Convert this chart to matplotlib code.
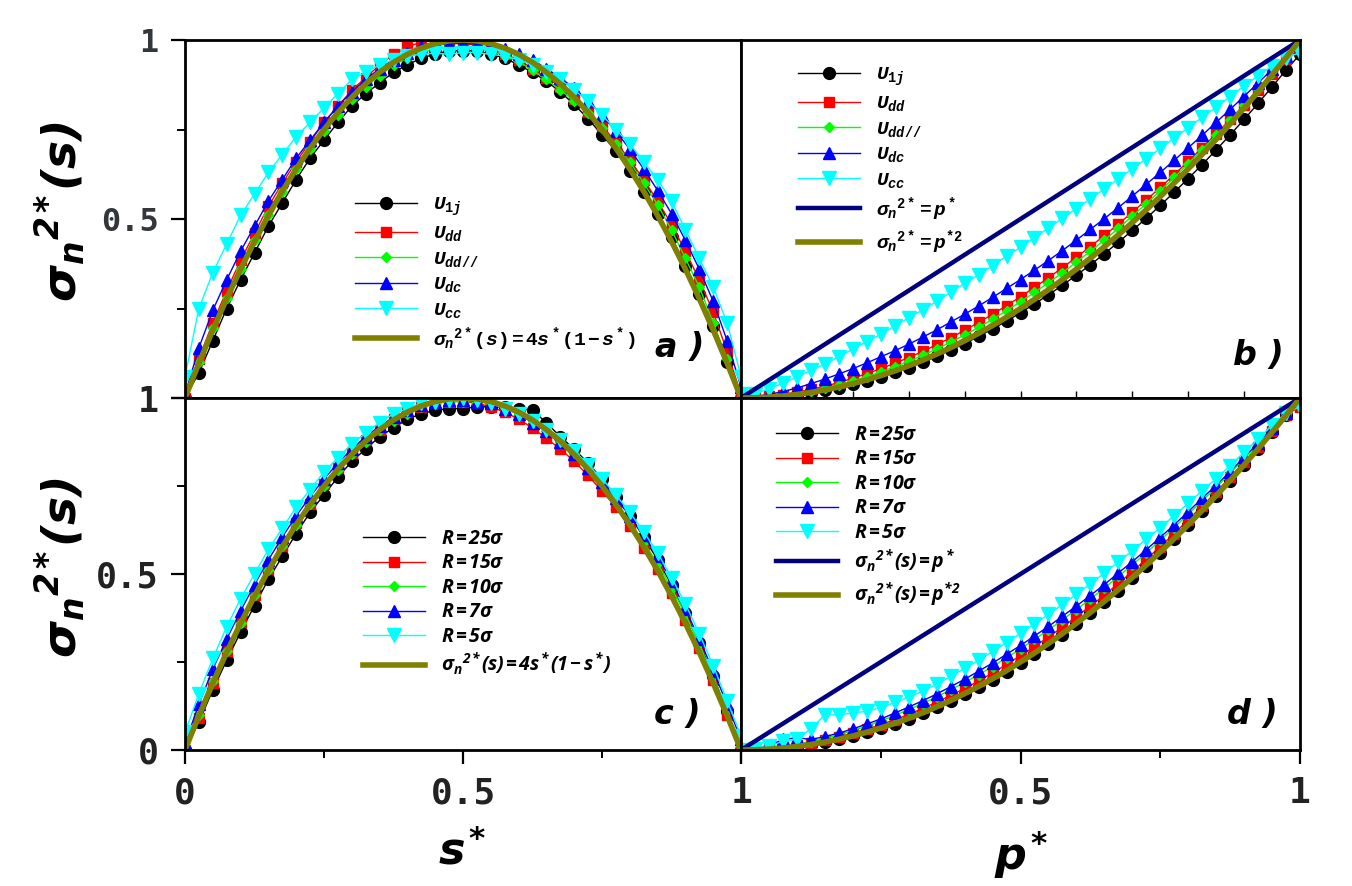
import matplotlib
matplotlib.use('Agg')
import matplotlib.pyplot as plt

plt.rcParams['mathtext.fontset'] = 'custom'
plt.rcParams['mathtext.it'] = 'Liberation Mono:italic:bold'
plt.rcParams['mathtext.rm'] = 'Liberation Mono:bold'
plt.rcParams['mathtext.bf'] = 'Open Sans:italic:bold'
plt.rcParams['mathtext.sf'] = 'DejaVu Sans:italic:bold'

# ---------------- data ----------------
x_grid = [0.000, 0.025, 0.050, 0.075, 0.100, 0.125, 0.150, 0.175, 0.200, 0.225,
          0.250, 0.275, 0.300, 0.325, 0.350, 0.375, 0.400, 0.425, 0.450, 0.475,
          0.500, 0.525, 0.550, 0.575, 0.600, 0.625, 0.650, 0.675, 0.700, 0.725,
          0.750, 0.775, 0.800, 0.825, 0.850, 0.875, 0.900, 0.925, 0.950, 0.975, 1.000]

# theory curves
theory_s = [0.0, 0.0975, 0.19, 0.2775, 0.36, 0.4375, 0.51, 0.5775, 0.64, 0.6975,
            0.75, 0.7975, 0.84, 0.8775, 0.91, 0.9375, 0.96, 0.9775, 0.99, 0.9975,
            1.0, 0.9975, 0.99, 0.9775, 0.96, 0.9375, 0.91, 0.8775, 0.84, 0.7975,
            0.75, 0.6975, 0.64, 0.5775, 0.51, 0.4375, 0.36, 0.2775, 0.19, 0.0975, 0.0]
theory_p2 = [0.0, 0.0006, 0.0025, 0.0056, 0.01, 0.0156, 0.0225, 0.0306, 0.04, 0.0506,
             0.0625, 0.0756, 0.09, 0.1056, 0.1225, 0.1406, 0.16, 0.1806, 0.2025, 0.2256,
             0.25, 0.2756, 0.3025, 0.3306, 0.36, 0.3906, 0.4225, 0.4556, 0.49, 0.5256,
             0.5625, 0.6006, 0.64, 0.6806, 0.7225, 0.7656, 0.81, 0.8556, 0.9025, 0.9506, 1.0]
line_x = [0.0, 1.0]
line_y = [0.0, 1.0]

# panel a
a_black = [0.0, 0.07, 0.16, 0.25, 0.33, 0.405, 0.48, 0.545, 0.61, 0.67, 0.72, 0.77, 0.815, 0.85,
           0.88, 0.91, 0.93, 0.95, 0.96, 0.97, 0.97, 0.97, 0.96, 0.95, 0.93, 0.91, 0.885, 0.855,
           0.82, 0.78, 0.735, 0.69, 0.635, 0.575, 0.515, 0.45, 0.37, 0.29, 0.20, 0.10, 0.0]
a_red = [0.0, 0.11, 0.21, 0.30, 0.385, 0.46, 0.535, 0.60, 0.66, 0.715, 0.77, 0.815, 0.86, 0.895,
         0.93, 0.96, 0.98, 0.995, 1.0, 0.995, 0.99, 0.985, 0.975, 0.96, 0.945, 0.92, 0.895, 0.87,
         0.835, 0.80, 0.76, 0.715, 0.665, 0.61, 0.55, 0.485, 0.41, 0.33, 0.24, 0.13, 0.01]
a_green = [0.0, 0.10, 0.195, 0.28, 0.36, 0.44, 0.51, 0.575, 0.64, 0.695, 0.745, 0.79, 0.835, 0.87,
           0.90, 0.93, 0.95, 0.965, 0.975, 0.98, 0.98, 0.975, 0.97, 0.955, 0.94, 0.915, 0.89, 0.86,
           0.83, 0.795, 0.755, 0.71, 0.66, 0.60, 0.54, 0.47, 0.39, 0.31, 0.21, 0.11, 0.0]
a_blue = [0.01, 0.14, 0.245, 0.33, 0.41, 0.48, 0.55, 0.61, 0.67, 0.72, 0.77, 0.815, 0.855, 0.89,
          0.92, 0.945, 0.965, 0.98, 0.985, 0.99, 0.99, 0.99, 0.985, 0.975, 0.96, 0.945, 0.92, 0.895,
          0.865, 0.83, 0.79, 0.745, 0.695, 0.64, 0.58, 0.515, 0.44, 0.36, 0.27, 0.16, 0.03]
a_cyan = [0.06, 0.25, 0.35, 0.43, 0.51, 0.57, 0.63, 0.68, 0.73, 0.77, 0.81, 0.85, 0.89, 0.91,
          0.93, 0.945, 0.955, 0.96, 0.963, 0.96, 0.965, 0.965, 0.96, 0.955, 0.945, 0.93, 0.91, 0.89,
          0.86, 0.83, 0.79, 0.75, 0.71, 0.66, 0.61, 0.55, 0.47, 0.39, 0.31, 0.21, 0.06]

# panel b
b_black = [0.0, 0.0006, 0.0024, 0.0053, 0.0095, 0.0148, 0.0214, 0.029, 0.038, 0.048, 0.059, 0.072,
           0.085, 0.100, 0.116, 0.134, 0.152, 0.172, 0.193, 0.215, 0.238, 0.263, 0.288, 0.315, 0.343,
           0.372, 0.403, 0.435, 0.468, 0.502, 0.538, 0.575, 0.613, 0.652, 0.693, 0.735, 0.778, 0.823,
           0.869, 0.916, 0.96]
b_red = [0.0, 0.002, 0.005, 0.009, 0.016, 0.024, 0.033, 0.043, 0.055, 0.068, 0.082, 0.097, 0.113,
         0.130, 0.149, 0.168, 0.189, 0.211, 0.234, 0.258, 0.283, 0.309, 0.336, 0.364, 0.393, 0.423,
         0.454, 0.486, 0.519, 0.553, 0.588, 0.624, 0.661, 0.699, 0.738, 0.778, 0.819, 0.861, 0.904,
         0.948, 0.975]
b_green = [0.0, 0.001, 0.0035, 0.0075, 0.013, 0.020, 0.028, 0.037, 0.048, 0.059, 0.073, 0.087, 0.102,
           0.119, 0.137, 0.156, 0.176, 0.197, 0.220, 0.244, 0.269, 0.295, 0.322, 0.350, 0.380, 0.410,
           0.441, 0.474, 0.508, 0.543, 0.579, 0.616, 0.655, 0.694, 0.734, 0.776, 0.819, 0.862, 0.907,
           0.953, 0.98]
b_blue = [0.0, 0.004, 0.010, 0.018, 0.028, 0.040, 0.053, 0.067, 0.082, 0.098, 0.115, 0.132, 0.150,
          0.170, 0.190, 0.212, 0.234, 0.257, 0.281, 0.306, 0.331, 0.357, 0.384, 0.412, 0.441, 0.471,
          0.501, 0.532, 0.564, 0.597, 0.630, 0.664, 0.699, 0.734, 0.770, 0.806, 0.843, 0.880, 0.918,
          0.955, 0.985]
b_cyan = [0.01, 0.012, 0.025, 0.042, 0.058, 0.077, 0.095, 0.115, 0.137, 0.157, 0.178, 0.201, 0.224,
          0.246, 0.270, 0.295, 0.320, 0.344, 0.370, 0.396, 0.421, 0.448, 0.475, 0.502, 0.529, 0.556,
          0.584, 0.612, 0.640, 0.668, 0.697, 0.726, 0.755, 0.784, 0.812, 0.842, 0.872, 0.900, 0.927,
          0.950, 0.965]

# panel c
c_black = [0.0, 0.08, 0.17, 0.255, 0.335, 0.41, 0.485, 0.55, 0.615, 0.675, 0.725, 0.775, 0.82, 0.855,
           0.89, 0.915, 0.94, 0.955, 0.965, 0.97, 0.97, 0.975, 0.975, 0.975, 0.97, 0.965, 0.93, 0.89,
           0.855, 0.815, 0.77, 0.72, 0.665, 0.605, 0.54, 0.47, 0.39, 0.305, 0.21, 0.11, 0.0]
c_red = [0.0, 0.09, 0.19, 0.28, 0.365, 0.44, 0.515, 0.58, 0.645, 0.70, 0.755, 0.80, 0.845, 0.88,
         0.91, 0.94, 0.96, 0.975, 0.985, 0.99, 0.99, 0.985, 0.975, 0.96, 0.94, 0.915, 0.885, 0.855,
         0.82, 0.78, 0.735, 0.69, 0.635, 0.575, 0.515, 0.445, 0.37, 0.29, 0.20, 0.10, 0.0]
c_green = [0.01, 0.10, 0.195, 0.28, 0.36, 0.44, 0.51, 0.58, 0.64, 0.70, 0.75, 0.795, 0.84, 0.875,
           0.91, 0.935, 0.955, 0.975, 0.985, 0.99, 0.99, 0.99, 0.985, 0.975, 0.955, 0.935, 0.905, 0.875,
           0.84, 0.80, 0.755, 0.705, 0.65, 0.59, 0.53, 0.46, 0.385, 0.30, 0.21, 0.11, 0.01]
c_blue = [0.02, 0.13, 0.23, 0.315, 0.395, 0.47, 0.54, 0.605, 0.665, 0.72, 0.77, 0.815, 0.855, 0.89,
          0.92, 0.945, 0.965, 0.98, 0.99, 0.995, 0.995, 0.99, 0.985, 0.97, 0.955, 0.93, 0.905, 0.875,
          0.84, 0.80, 0.76, 0.715, 0.665, 0.61, 0.55, 0.48, 0.40, 0.315, 0.225, 0.13, 0.03]
c_cyan = [0.05, 0.16, 0.26, 0.35, 0.43, 0.50, 0.57, 0.63, 0.69, 0.74, 0.79, 0.83, 0.87, 0.90,
          0.93, 0.955, 0.97, 0.985, 0.99, 0.995, 1.0, 0.995, 0.985, 0.97, 0.955, 0.935, 0.91, 0.88,
          0.85, 0.81, 0.77, 0.725, 0.675, 0.62, 0.56, 0.49, 0.415, 0.33, 0.24, 0.14, 0.04]

# panel d
d_black = [0.0, 0.0006, 0.0025, 0.0055, 0.0098, 0.0153, 0.022, 0.030, 0.039, 0.050, 0.062, 0.075,
           0.089, 0.104, 0.121, 0.139, 0.158, 0.179, 0.200, 0.223, 0.247, 0.273, 0.300, 0.328, 0.357,
           0.388, 0.420, 0.453, 0.488, 0.524, 0.561, 0.599, 0.639, 0.680, 0.722, 0.765, 0.810, 0.856,
           0.903, 0.951, 0.99]
d_red = [0.0, 0.001, 0.0035, 0.0075, 0.013, 0.020, 0.028, 0.037, 0.048, 0.059, 0.072, 0.086, 0.101,
         0.118, 0.136, 0.155, 0.175, 0.196, 0.219, 0.243, 0.268, 0.294, 0.321, 0.349, 0.379, 0.409,
         0.440, 0.473, 0.507, 0.542, 0.578, 0.615, 0.654, 0.693, 0.733, 0.775, 0.818, 0.861, 0.906,
         0.952, 0.975]
d_green = [0.0, 0.0013, 0.0045, 0.0094, 0.016, 0.024, 0.033, 0.043, 0.055, 0.068, 0.083, 0.098, 0.115,
           0.132, 0.151, 0.171, 0.192, 0.214, 0.237, 0.262, 0.287, 0.314, 0.341, 0.370, 0.399, 0.429,
           0.460, 0.493, 0.526, 0.560, 0.596, 0.632, 0.670, 0.708, 0.746, 0.786, 0.828, 0.869, 0.912,
           0.956, 0.98]
d_blue = [0.0, 0.002, 0.012, 0.030, 0.035, 0.030, 0.038, 0.048, 0.060, 0.074, 0.088, 0.105, 0.122,
          0.140, 0.159, 0.180, 0.201, 0.224, 0.247, 0.272, 0.297, 0.324, 0.351, 0.380, 0.409, 0.439,
          0.470, 0.503, 0.535, 0.569, 0.604, 0.640, 0.677, 0.715, 0.752, 0.791, 0.832, 0.872, 0.915,
          0.957, 0.99]
d_cyan = [0.0, 0.004, 0.010, 0.025, 0.030, 0.060, 0.100, 0.100, 0.105, 0.110, 0.120, 0.135, 0.150,
          0.167, 0.187, 0.209, 0.232, 0.255, 0.280, 0.305, 0.331, 0.358, 0.385, 0.414, 0.442, 0.472,
          0.503, 0.534, 0.566, 0.599, 0.632, 0.666, 0.701, 0.737, 0.771, 0.808, 0.846, 0.884, 0.922,
          0.958, 0.975]

labels_U = [r'$U_{1j}$', r'$U_{dd}$', r'$U_{dd//}$', r'$U_{dc}$', r'$U_{cc}$']
labels_R = [r'$\mathbf{R=25\sigma}$', r'$\mathbf{R=15\sigma}$', r'$\mathbf{R=10\sigma}$',
            r'$\mathbf{R=7\sigma}$', r'$\mathbf{R=5\sigma}$']
lab_a_th = r'$\sigma_n{}^{2*}(s)=4s^*(1-s^*)$'
lab_b_th = [r'$\sigma_n{}^{2*}=p^*$', r'$\sigma_n{}^{2*}=p^{*2}$']
lab_c_th = r'$\mathbf{\sigma_n{}^{2*}(s)=4s^*(1-s^*)}$'
lab_d_th = [r'$\mathbf{\sigma_n{}^{2*}(s)=p^*}$', r'$\mathbf{\sigma_n{}^{2*}(s)=p^{*2}}$']

# ---------------- styling ----------------
styles = [('#000000', 'o', 8.5), ('#ff0000', 's', 7.5), ('#00ff00', 'D', 5.5),
          ('#0000ff', '^', 8.5), ('#00ffff', 'v', 9.5)]
OLIVE = '#808000'
NAVY = '#000080'
W, H = 1352, 886

fig = plt.figure(figsize=(W / 100, H / 100), dpi=100)


def fax(l, t, r, b):
    return fig.add_axes([l / W, 1 - b / H, (r - l) / W, (b - t) / H])


ax_a = fax(185, 40, 741, 398)
ax_b = fax(741, 40, 1300, 398)
ax_c = fax(185, 398, 741, 750)
ax_d = fax(741, 398, 1300, 750)


def draw_series(ax, ys, labels):
    hs = []
    for y, (c, m, ms), lab in zip(ys, styles, labels):
        h, = ax.plot(x_grid, y, color=c, marker=m, ms=ms, lw=1.0, mec=c, mfc=c, label=lab)
        hs.append(h)
    return hs


tick_font = dict(family='DejaVu Sans Mono', weight='bold')

for ax in (ax_a, ax_b, ax_c, ax_d):
    ax.set_xlim(0, 1)
    ax.set_ylim(0, 1)
    for sp in ax.spines.values():
        sp.set_linewidth(2.0)
        sp.set_color('black')

leg_kw = dict(loc='upper left', bbox_transform=fig.transFigure, frameon=False, borderpad=0,
              borderaxespad=0, handlelength=3.2, handletextpad=0.8, labelspacing=0.28,
              fontsize=14)

# panel a
h = draw_series(ax_a, [a_black, a_red, a_green, a_blue, a_cyan], labels_U)
h += ax_a.plot(x_grid, theory_s, color=OLIVE, lw=4, label=lab_a_th)
ax_a.legend(handles=h, bbox_to_anchor=(355 / W, 1 - 195 / H), **leg_kw)

# panel b
h = draw_series(ax_b, [b_black, b_red, b_green, b_blue, b_cyan], labels_U)
h += ax_b.plot(line_x, line_y, color=NAVY, lw=3.2, label=lab_b_th[0])
h += ax_b.plot(x_grid, theory_p2, color=OLIVE, lw=4, label=lab_b_th[1])
ax_b.legend(handles=h, bbox_to_anchor=(798 / W, 1 - 65 / H), **leg_kw)

# panel c
h = draw_series(ax_c, [c_black, c_red, c_green, c_blue, c_cyan], labels_R)
h += ax_c.plot(x_grid, theory_s, color=OLIVE, lw=4, label=lab_c_th)
ax_c.legend(handles=h, bbox_to_anchor=(363 / W, 1 - 529 / H), **leg_kw)

# panel d
h = draw_series(ax_d, [d_black, d_red, d_green, d_blue, d_cyan], labels_R)
h += ax_d.plot(line_x, line_y, color=NAVY, lw=3.2, label=lab_d_th[0])
h += ax_d.plot(x_grid, theory_p2, color=OLIVE, lw=4, label=lab_d_th[1])
ax_d.legend(handles=h, bbox_to_anchor=(776 / W, 1 - 425 / H), **leg_kw)

# ticks
maj = dict(direction='out', length=10, width=1.6, color='black')
mnr = dict(direction='out', length=6, width=1.4, color='black')

ax_a.set_yticks([0, 0.5, 1])
ax_a.set_yticklabels(['', '0.5', '1'], fontsize=23, color='#33373b', **tick_font)
ax_a.set_yticks([0.25, 0.75], minor=True)
ax_a.tick_params(axis='y', which='major', pad=9, **maj)
ax_a.tick_params(axis='y', which='minor', **mnr)
ax_a.tick_params(axis='x', which='both', bottom=False, labelbottom=False)

ax_c.set_yticks([0, 0.5, 1])
ax_c.set_yticklabels(['0', '0.5', '1'], fontsize=25, color='#222222', **tick_font)
ax_c.set_yticks([0.25, 0.75], minor=True)
ax_c.set_xticks([0, 0.5, 1])
ax_c.set_xticklabels(['0', '0.5', '1'], fontsize=26, color='#222222', **tick_font)
ax_c.set_xticks([0.25, 0.75], minor=True)
ax_c.tick_params(axis='both', which='major', pad=9, **maj)
ax_c.tick_params(axis='both', which='minor', **mnr)

ax_b.set_yticks([])
ax_b.set_xticks([0.1, 0.2, 0.3, 0.4, 0.5, 0.6, 0.7, 0.8, 0.9])
ax_b.set_xticklabels([])
ax_b.tick_params(axis='x', direction='in', length=5, width=1.0)

ax_d.set_yticks([])
ax_d.set_xticks([0, 0.5, 1])
ax_d.set_xticklabels(['', '0.5', '1'], fontsize=26, color='#222222', **tick_font)
ax_d.set_xticks([0.25, 0.75], minor=True)
ax_d.tick_params(axis='x', which='major', pad=9, **maj)
ax_d.tick_params(axis='x', which='minor', **mnr)

# axis labels
ylab = r'$\mathsf{\sigma_n{}^{2*}(s)}$'
fig.text(60 / W, 1 - 212 / H, ylab, rotation=90, fontsize=34, ha='center', va='center')
fig.text(60 / W, 1 - 568 / H, ylab, rotation=90, fontsize=34, ha='center', va='center')
fig.text(462 / W, 1 - 852 / H, r'$\mathsf{s^*}$', fontsize=32, ha='center', va='center')
fig.text(1021 / W, 1 - 855 / H, r'$\mathsf{p^*}$', fontsize=32, ha='center', va='center')

# panel letters
pl = dict(fontsize=24, fontweight='bold', fontstyle='italic', ha='center', va='center',
          family='DejaVu Sans')
ax_a.text(0.89, 0.14, 'a )', transform=ax_a.transAxes, **pl)
ax_b.text(0.925, 0.12, 'b )', transform=ax_b.transAxes, **pl)
ax_c.text(0.885, 0.10, 'c )', transform=ax_c.transAxes, **pl)
ax_d.text(0.915, 0.10, 'd )', transform=ax_d.transAxes, **pl)

fig.savefig('out.png', dpi=100)
